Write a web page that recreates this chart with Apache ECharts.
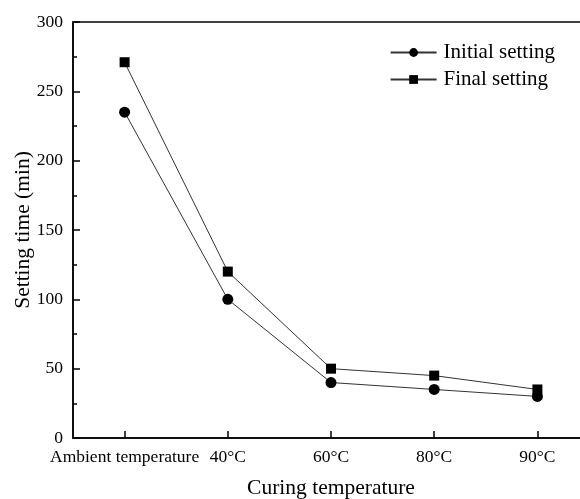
<!DOCTYPE html>
<html>
<head>
<meta charset="utf-8">
<script src="https://cdn.jsdelivr.net/npm/echarts@6/dist/echarts.min.js"></script>
<style>
  html, body { margin: 0; padding: 0; background: #ffffff; }
  #chart { width: 580px; height: 499px; }
</style>
</head>
<body>
<div id="chart"></div>
<script>
// Setting time of the paste at each curing temperature
const categories = ['Ambient temperature', '40°C', '60°C', '80°C', '90°C'];
const initialSetting = [235, 100, 40, 35, 30];
const finalSetting = [271, 120, 50, 45, 35];
const yTicks = { min: 0, max: 300, interval: 50 };

const FONT = '"Liberation Serif", "Times New Roman", serif';

const chart = echarts.init(document.getElementById('chart'), null, { renderer: 'canvas' });

chart.setOption({
  backgroundColor: '#ffffff',
  animation: false,
  grid: {
    left: 73, right: -9, top: 22, bottom: 61,
    outerBoundsMode: 'none',
    containLabel: false,
    show: true, borderColor: '#000', borderWidth: 1.5, backgroundColor: 'transparent'
  },
  legend: {
    right: 20, top: 37, orient: 'vertical',
    itemWidth: 46, itemHeight: 11, itemGap: 6,
    textStyle: { fontFamily: FONT, fontSize: 21, color: '#000', padding: [0, 0, 0, 2] },
    data: ['Initial setting', 'Final setting']
  },
  xAxis: {
    type: 'category',
    data: categories,
    boundaryGap: true,
    name: 'Curing temperature',
    nameLocation: 'middle',
    nameGap: 39,
    nameMoveOverlap: false,
    nameTextStyle: { fontFamily: FONT, fontSize: 21.5, color: '#000' },
    axisLine: { lineStyle: { color: '#000', width: 1.5 } },
    axisTick: { show: true, inside: true, alignWithLabel: true, length: 7, lineStyle: { color: '#000', width: 1.5 } },
    axisLabel: { fontFamily: FONT, fontSize: 17.5, color: '#000', margin: 10, interval: 0 },
    splitLine: { show: false }
  },
  yAxis: {
    type: 'value',
    min: yTicks.min, max: yTicks.max, interval: yTicks.interval,
    name: 'Setting time (min)',
    nameLocation: 'middle',
    nameGap: 39,
    nameMoveOverlap: false,
    nameTextStyle: { fontFamily: FONT, fontSize: 21.5, color: '#000' },
    axisLine: { show: true, lineStyle: { color: '#000', width: 1.5 } },
    axisTick: { show: true, inside: true, length: 7, lineStyle: { color: '#000', width: 1.5 } },
    minorTick: { show: true, splitNumber: 2, length: 4, lineStyle: { color: '#000', width: 1.5 } },
    axisLabel: { fontFamily: FONT, fontSize: 17.5, color: '#000', margin: 10 },
    splitLine: { show: false }
  },
  series: [
    {
      name: 'Initial setting',
      type: 'line',
      data: initialSetting,
      symbol: 'circle',
      symbolSize: 11,
      itemStyle: { color: '#000' },
      lineStyle: { color: '#333', width: 1 }
    },
    {
      name: 'Final setting',
      type: 'line',
      data: finalSetting,
      symbol: 'rect',
      symbolSize: 10,
      itemStyle: { color: '#000' },
      lineStyle: { color: '#333', width: 1 }
    }
  ]
});
</script>
</body>
</html>
